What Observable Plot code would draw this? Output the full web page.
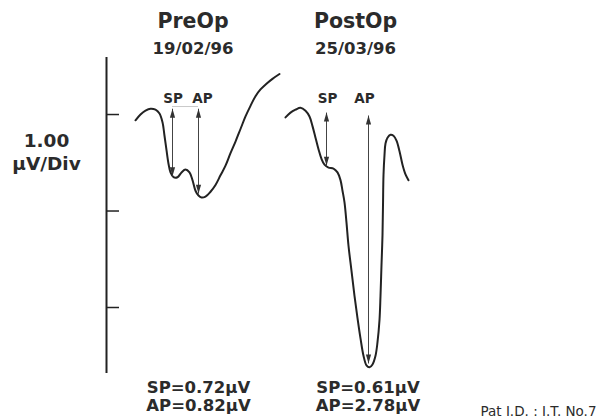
<!DOCTYPE html>
<html><head><meta charset="utf-8">
<script src="https://cdn.jsdelivr.net/npm/d3@7"></script>
<script src="https://cdn.jsdelivr.net/npm/@observablehq/plot@0.6"></script>
<style>body{margin:0;background:#fff}#chart svg{display:block}</style>
</head><body><div id="chart"></div>
<script>
// Traces: time (ms, arbitrary display units) and voltage (µV, baseline = 0)
const preTime = [2.9,3.4,3.9,4.4,4.9,5.3,5.6,5.8,6.0,6.2,6.4,6.7,7.1,7.5,7.9,8.3,8.6,8.9,9.2,9.5,9.9,10.4,10.9,11.4,11.9,12.4,12.9,13.4,13.9,14.4,14.9,15.4,16.0,16.6,17.3];
const preVolt = [-0.06,0.00,0.04,0.06,0.05,0.01,-0.08,-0.22,-0.37,-0.51,-0.60,-0.65,-0.65,-0.60,-0.57,-0.60,-0.68,-0.79,-0.84,-0.86,-0.85,-0.80,-0.73,-0.63,-0.53,-0.40,-0.28,-0.15,-0.02,0.09,0.19,0.26,0.32,0.37,0.42];
const postTime = [17.9,18.4,18.9,19.4,19.9,20.3,20.6,20.9,21.2,21.5,21.8,22.2,22.7,23.1,23.4,23.6,23.8,24.0,24.2,24.5,24.8,25.1,25.4,25.7,26.0,26.3,26.6,26.9,27.1,27.3,27.4,27.5,27.6,27.65,27.7,27.8,27.9,28.1,28.4,28.7,29.0,29.3,29.6,29.9,30.2];
const postVolt = [-0.03,0.02,0.05,0.07,0.04,-0.02,-0.12,-0.24,-0.36,-0.46,-0.52,-0.55,-0.56,-0.60,-0.68,-0.79,-0.91,-1.12,-1.36,-1.62,-1.88,-2.11,-2.32,-2.50,-2.60,-2.62,-2.59,-2.50,-2.36,-2.13,-1.88,-1.56,-1.25,-0.94,-0.63,-0.42,-0.30,-0.24,-0.21,-0.22,-0.27,-0.38,-0.52,-0.62,-0.68];

// Session titles and measured amplitudes
const sessions = ["PreOp", "PostOp"];
const sessionDates = ["19/02/96", "25/03/96"];
const sessionCenter = [8.65, 24.9];
const spValues = [0.72, 0.61];
const apValues = [0.82, 2.78];
const resultCenter = [9.2, 26.15];

// SP / AP measurement arrows
const arrowLabels = ["SP", "AP", "SP", "AP"];
const arrowTime = [6.6, 9.2, 22.0, 26.2];
const arrowTop = [0.06, 0.06, 0.02, -0.01];
const arrowBottom = [-0.64, -0.82, -0.53, -2.58];
const arrowLabelTime = [6.65, 9.6, 22.1, 25.8];

// Vertical scale bar
const scaleTicks = [0, -1, -2];
const scaleText = ["1.00", "µV/Div"];
const patientId = "Pat I.D. : I.T. No.7";

const pre = preTime.map((t, i) => ({t, v: preVolt[i]}));
const post = postTime.map((t, i) => ({t, v: postVolt[i]}));
const arrows = arrowLabels.map((label, i) => ({label, t: arrowTime[i], top: arrowTop[i], bottom: arrowBottom[i], lt: arrowLabelTime[i]}));
const sess = sessions.map((name, i) => ({name, date: sessionDates[i], c: sessionCenter[i], rc: resultCenter[i],
  sp: `SP=${spValues[i].toFixed(2)}µV`, ap: `AP=${apValues[i].toFixed(2)}µV`}));

// slender arrowhead with its tip at the anchor point (pointing up)
const headSymbol = {draw(ctx) { ctx.moveTo(0, 0); ctx.lineTo(2.6, 9); ctx.lineTo(-2.6, 9); ctx.closePath(); }};

const ink = "#222";
const txt = "#2b2b2b";

const chart = Plot.plot({
  width: 607,
  height: 418,
  marginLeft: 106,
  marginRight: 0,
  marginTop: 57,
  marginBottom: 45,
  x: {domain: [0, 50.1], axis: null},
  y: {domain: [-2.684, 0.591], axis: null},
  style: {fontFamily: "'DejaVu Sans', sans-serif", background: "#fff", color: txt},
  marks: [
    Plot.ruleX([0], {stroke: ink, strokeWidth: 2}),
    Plot.ruleY(scaleTicks, {x1: 0, x2: 1.3, stroke: ink, strokeWidth: 1.5}),
    Plot.ruleY([0.083], {x1: arrowTime[0], x2: arrowTime[1], stroke: "#bbb", strokeWidth: 0.8}),
    Plot.line(pre, {x: "t", y: "v", curve: "catmull-rom", stroke: ink, strokeWidth: 2}),
    Plot.line(post, {x: "t", y: "v", curve: "catmull-rom", stroke: ink, strokeWidth: 2}),
    Plot.link(arrows, {x1: "t", x2: "t", y1: "top", y2: "bottom", stroke: "#444", strokeWidth: 1}),
    Plot.dot(arrows, {x: "t", y: "top", symbol: headSymbol, fill: "#333", stroke: "none"}),
    Plot.dot(arrows, {x: "t", y: "bottom", symbol: headSymbol, rotate: 180, fill: "#333", stroke: "none"}),
    Plot.text(arrows, {x: "lt", y: 0.12, text: "label", lineAnchor: "bottom", fontSize: 13.5, fontWeight: "bold", fill: txt}),
    Plot.text(sess, {x: "c", y: 0.90, text: "name", lineAnchor: "bottom", fontSize: 20.5, fontWeight: "bold", fill: txt}),
    Plot.text(sess, {x: "c", y: 0.63, text: "date", lineAnchor: "bottom", fontSize: 16.5, fontWeight: "bold", fill: txt}),
    Plot.text(sess, {x: "rc", y: -2.89, text: "sp", lineAnchor: "bottom", fontSize: 16.5, fontWeight: "bold", fill: txt}),
    Plot.text(sess, {x: "rc", y: -3.07, text: "ap", lineAnchor: "bottom", fontSize: 16.5, fontWeight: "bold", fill: txt}),
    Plot.text([scaleText[0]], {x: -6.0, y: -0.34, text: d => d, lineAnchor: "bottom", fontSize: 18.5, fontWeight: "bold", fill: txt}),
    Plot.text([scaleText[1]], {x: -6.0, y: -0.58, text: d => d, lineAnchor: "bottom", fontSize: 18.5, fontWeight: "bold", fill: txt}),
    Plot.text([patientId], {x: 37.4, y: -3.12, text: d => d, textAnchor: "start", lineAnchor: "bottom", fontSize: 13.5, fill: txt})
  ]
});
document.getElementById("chart").appendChild(chart);
</script>
</body></html>
